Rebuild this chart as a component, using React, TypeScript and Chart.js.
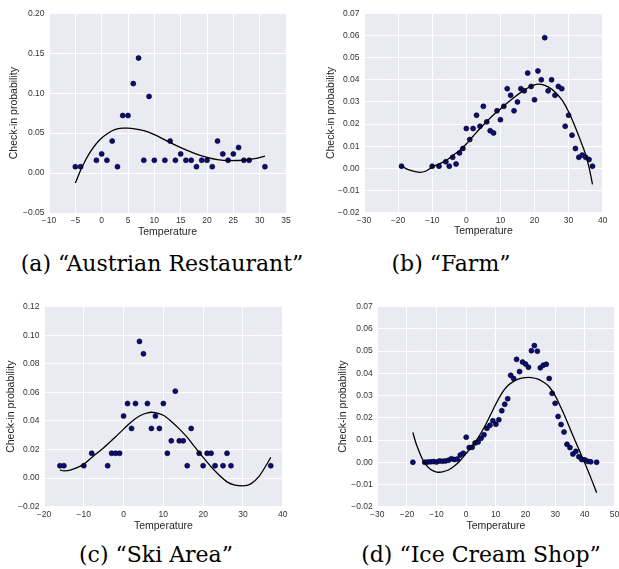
import { useEffect, useRef } from "react";
import { Chart, registerables } from "chart.js";

Chart.register(...registerables);

// ---------- (a) Austrian Restaurant ----------
const austrianTemps = [-5, -4, -1, 0, 1, 2, 3, 4, 5, 6, 7, 8, 9, 10, 12, 13, 14, 15, 16, 17, 18, 19, 20, 21, 22, 23, 24, 25, 26, 27, 28, 31];
const austrianProbs = [0.008, 0.008, 0.016, 0.024, 0.016, 0.04, 0.008, 0.072, 0.072, 0.112, 0.144, 0.016, 0.096, 0.016, 0.016, 0.04, 0.016, 0.024, 0.016, 0.016, 0.008, 0.016, 0.016, 0.008, 0.04, 0.024, 0.016, 0.024, 0.032, 0.016, 0.016, 0.008];
const austrianFitTemps = [-5, -4, -3, -2, -1, 0, 1, 2, 3, 4, 5, 6, 8, 10, 12, 14, 16, 18, 20, 22, 24, 26, 28, 30, 31];
const austrianFitProbs = [-0.0125, 0.0035, 0.017, 0.028, 0.037, 0.044, 0.049, 0.053, 0.0553, 0.0562, 0.0563, 0.0557, 0.053, 0.048, 0.0415, 0.035, 0.029, 0.0238, 0.0197, 0.0168, 0.0155, 0.0157, 0.017, 0.0193, 0.0212];

// ---------- (b) Farm ----------
const farmTemps = [-19, -10, -8, -6, -5, -4, -3, -2, -1, 0, 1, 2, 3, 4, 5, 6, 7, 8, 9, 10, 11, 12, 13, 14, 15, 16, 17, 18, 19, 20, 21, 22, 23, 24, 25, 26, 27, 28, 29, 30, 31, 32, 33, 34, 35, 36, 37];
const farmProbs = [0.001, 0.001, 0.001, 0.003, 0.001, 0.005, 0.002, 0.007, 0.009, 0.018, 0.013, 0.018, 0.024, 0.019, 0.028, 0.021, 0.017, 0.016, 0.026, 0.022, 0.028, 0.036, 0.033, 0.026, 0.03, 0.036, 0.035, 0.043, 0.037, 0.031, 0.044, 0.04, 0.059, 0.035, 0.04, 0.033, 0.037, 0.036, 0.019, 0.024, 0.015, 0.009, 0.005, 0.006, 0.005, 0.004, 0.001];
const farmFitTemps = [-19, -17, -15, -13.5, -12, -10, -8, -6, -4, -2, 0, 2, 4, 6, 8, 10, 12, 14, 16, 18, 20, 21, 22, 24, 26, 28, 30, 32, 34, 35, 36, 37];
const farmFitProbs = [0.001, -0.0006, -0.0015, -0.0018, -0.0013, 0.0006, 0.002, 0.0035, 0.0058, 0.008, 0.011, 0.0145, 0.018, 0.0212, 0.0242, 0.0268, 0.0295, 0.032, 0.0343, 0.0363, 0.0377, 0.038, 0.0379, 0.0368, 0.0345, 0.031, 0.0256, 0.0185, 0.0105, 0.0062, 0.0005, -0.0072];

// ---------- (c) Ski Area ----------
const skiTemps = [-16, -15, -10, -8, -4, -3, -2, -1, 0, 1, 2, 3, 4, 5, 6, 7, 8, 9, 10, 11, 12, 13, 14, 15, 16, 17, 19, 20, 21, 22, 23, 25, 26, 27, 37];
const skiProbs = [0.0087, 0.0087, 0.0087, 0.0174, 0.0087, 0.0174, 0.0174, 0.0174, 0.0435, 0.0522, 0.0348, 0.0522, 0.0957, 0.087, 0.0522, 0.0348, 0.0435, 0.0348, 0.0522, 0.0174, 0.0261, 0.0609, 0.0261, 0.0261, 0.0087, 0.0348, 0.0174, 0.0087, 0.0174, 0.0174, 0.0087, 0.0087, 0.0174, 0.0087, 0.0087];
const skiFitTemps = [-16, -15, -14, -12, -10, -8, -5, -2, 0, 2, 4, 6, 7, 8, 10, 12, 14, 16, 18, 20, 22, 24, 26, 28, 30, 32, 34, 36, 37];
const skiFitProbs = [0.0058, 0.0051, 0.0052, 0.007, 0.0098, 0.0145, 0.0213, 0.029, 0.0343, 0.0395, 0.0435, 0.0457, 0.0461, 0.0459, 0.044, 0.0397, 0.0345, 0.0285, 0.0215, 0.0145, 0.008, 0.0022, -0.0026, -0.0049, -0.0054, -0.004, 0.001, 0.0097, 0.0145];

// ---------- (d) Ice Cream Shop ----------
const iceTemps = [-18, -14, -13, -12, -11, -10, -9, -8, -7, -6, -5, -4, -3, -2, -1, 0, 1, 2, 3, 4, 5, 6, 7, 8, 9, 10, 11, 12, 13, 14, 15, 16, 17, 18, 19, 20, 21, 22, 23, 24, 25, 26, 27, 28, 29, 30, 31, 32, 33, 34, 35, 36, 37, 38, 39, 40, 41, 42, 44];
const iceProbs = [0.0, 0.0, 0.0001, 0.0002, 0.0003, 0.0001, 0.0006, 0.0005, 0.0006, 0.0009, 0.0016, 0.0012, 0.0015, 0.0033, 0.004, 0.0113, 0.0066, 0.0067, 0.0087, 0.0091, 0.0108, 0.0124, 0.0153, 0.0166, 0.0187, 0.0171, 0.0191, 0.0232, 0.0261, 0.0286, 0.0391, 0.0377, 0.0463, 0.0408, 0.0451, 0.0442, 0.0428, 0.0502, 0.0525, 0.05, 0.0425, 0.0437, 0.0441, 0.0377, 0.031, 0.0265, 0.0206, 0.017, 0.0136, 0.0081, 0.0066, 0.0037, 0.0049, 0.0025, 0.0012, 0.0011, 0.0004, 0.0002, 0.0];
const iceFitTemps = [-18, -17, -16, -15, -14, -12, -10, -9, -8, -6, -4, -2, 0, 2, 4, 6, 8, 10, 12, 14, 16, 18, 20, 21, 22, 24, 26, 28, 30, 32, 34, 36, 38, 40, 42, 44];
const iceFitProbs = [0.0134, 0.0088, 0.0052, 0.002, -0.0004, -0.0033, -0.0044, -0.0045, -0.0043, -0.0035, -0.0017, 0.0008, 0.004, 0.0073, 0.011, 0.0155, 0.0208, 0.0262, 0.031, 0.0344, 0.0364, 0.0376, 0.0381, 0.0382, 0.0381, 0.0375, 0.0361, 0.034, 0.03, 0.0245, 0.0185, 0.012, 0.0058, -0.0003, -0.0068, -0.0137];

// ---------- captions / labels ----------
const captions = ["(a) \u201cAustrian Restaurant\u201d", "(b) \u201cFarm\u201d", "(c) \u201cSki Area\u201d", "(d) \u201cIce Cream Shop\u201d"];
const xTitle = "Temperature";
const yTitle = "Check-in probability";

type Spec = {
  temps: number[];
  probs: number[];
  fitTemps: number[];
  fitProbs: number[];
  xMin: number; xMax: number; xStep: number;
  yMin: number; yMax: number; yStep: number; yDec: number;
  left: number; top: number; width: number; height: number;
  pL: number; pT: number; pR: number; pB: number;
  yTitleC: number; xTickC: number; xTitleC: number;
};

const TICK_SIZE = 8.5;
const TITLE_SIZE = 10.5;
const TICK_LH = TICK_SIZE * 1.2;
const TITLE_LH = TITLE_SIZE * 1.2;

const fmt = (v: number, dec: number) => {
  let n = Number(v);
  if (Math.abs(n) < 1e-10) n = 0;
  return n.toFixed(dec).replace("-", "\u2212");
};

const bgPlugin = {
  id: "bgfill",
  beforeDraw(chart: any) {
    const { ctx, chartArea } = chart;
    if (!chartArea) return;
    ctx.save();
    ctx.fillStyle = "#EAEAF2";
    ctx.fillRect(chartArea.left, chartArea.top, chartArea.right - chartArea.left, chartArea.bottom - chartArea.top);
    ctx.restore();
  },
};

function Panel({ s }: { s: Spec }) {
  const ref = useRef<HTMLCanvasElement | null>(null);
  useEffect(() => {
    if (!ref.current) return;
    const chart = new Chart(ref.current, {
      type: "scatter",
      data: {
        datasets: [
          {
            type: "scatter",
            data: s.fitTemps.map((t, i) => ({ x: t, y: s.fitProbs[i] })),
            showLine: true,
            pointRadius: 0,
            borderColor: "#000000",
            borderWidth: 1.3,
            cubicInterpolationMode: "monotone",
            fill: false,
            order: 0,
          } as any,
          {
            type: "scatter",
            data: s.temps.map((t, i) => ({ x: t, y: s.probs[i] })),
            pointRadius: 2.5,
            pointBackgroundColor: "#0b0b80",
            pointBorderColor: "#000000",
            pointBorderWidth: 0.6,
            showLine: false,
            order: 1,
          } as any,
        ],
      },
      options: {
        responsive: false,
        animation: false,
        events: [],
        layout: { padding: { left: 0, top: s.pT, right: s.width - s.pR, bottom: 0 } },
        plugins: { legend: { display: false }, tooltip: { enabled: false } },
        scales: {
          x: {
            type: "linear",
            min: s.xMin,
            max: s.xMax,
            border: { display: false },
            grid: { color: "#ffffff", lineWidth: 1, drawTicks: false },
            ticks: {
              stepSize: s.xStep,
              padding: s.xTickC - s.pB - TICK_LH / 2,
              color: "#333333",
              font: { family: "'Liberation Sans', Arial, sans-serif", size: TICK_SIZE },
              maxRotation: 0,
              autoSkip: false,
              callback: (v: any) => fmt(v, 0),
            },
            title: {
              display: true,
              text: xTitle,
              color: "#262626",
              font: { family: "'Liberation Sans', Arial, sans-serif", size: TITLE_SIZE },
              padding: { top: 0, bottom: s.height - s.xTitleC - TITLE_LH / 2 },
            },
            afterFit: (sc: any) => {
              sc.height = s.height - s.pB;
              sc.paddingLeft = 0;
              sc.paddingRight = 0;
            },
          },
          y: {
            type: "linear",
            min: s.yMin,
            max: s.yMax,
            border: { display: false },
            grid: { color: "#ffffff", lineWidth: 1, drawTicks: false },
            ticks: {
              stepSize: s.yStep,
              padding: 4.5,
              color: "#333333",
              font: { family: "'Liberation Sans', Arial, sans-serif", size: TICK_SIZE },
              autoSkip: false,
              callback: (v: any) => fmt(v, s.yDec),
            },
            title: {
              display: true,
              text: yTitle,
              color: "#262626",
              font: { family: "'Liberation Sans', Arial, sans-serif", size: TITLE_SIZE },
              padding: { top: s.yTitleC - TITLE_LH / 2, bottom: 0 },
            },
            afterFit: (sc: any) => {
              sc.width = s.pL;
              sc.paddingTop = 0;
              sc.paddingBottom = 0;
            },
          },
        },
      } as any,
      plugins: [bgPlugin],
    });
    return () => chart.destroy();
  }, [s]);
  return (
    <canvas
      ref={ref}
      width={s.width}
      height={s.height}
      style={{ position: "absolute", left: s.left, top: s.top, width: s.width, height: s.height, display: "block" }}
    />
  );
}

const specs: Spec[] = [
  {
    temps: austrianTemps, probs: austrianProbs, fitTemps: austrianFitTemps, fitProbs: austrianFitProbs,
    xMin: -10, xMax: 35, xStep: 5, yMin: -0.05, yMax: 0.2, yStep: 0.05, yDec: 2,
    left: 0, top: 0, width: 300, height: 240,
    pL: 49, pT: 13.3, pR: 286, pB: 213, yTitleC: 14, xTickC: 220.3, xTitleC: 231.7,
  },
  {
    temps: farmTemps, probs: farmProbs, fitTemps: farmFitTemps, fitProbs: farmFitProbs,
    xMin: -30, xMax: 40, xStep: 10, yMin: -0.02, yMax: 0.07, yStep: 0.01, yDec: 2,
    left: 310, top: 0, width: 309, height: 240,
    pL: 54, pT: 13.3, pR: 292.7, pB: 212.7, yTitleC: 20.7, xTickC: 220.5, xTitleC: 231,
  },
  {
    temps: skiTemps, probs: skiProbs, fitTemps: skiFitTemps, fitProbs: skiFitProbs,
    xMin: -20, xMax: 40, xStep: 10, yMin: -0.02, yMax: 0.12, yStep: 0.02, yDec: 2,
    left: 0, top: 290, width: 300, height: 250,
    pL: 44, pT: 16.7, pR: 282.7, pB: 216.7, yTitleC: 11, xTickC: 224.3, xTitleC: 236,
  },
  {
    temps: iceTemps, probs: iceProbs, fitTemps: iceFitTemps, fitProbs: iceFitProbs,
    xMin: -30, xMax: 50, xStep: 10, yMin: -0.02, yMax: 0.07, yStep: 0.01, yDec: 2,
    left: 310, top: 290, width: 309, height: 250,
    pL: 67.3, pT: 16.7, pR: 305, pB: 216.7, yTitleC: 33.3, xTickC: 224.3, xTitleC: 236,
  },
];

const captionPos = [
  { cx: 162, base: 272 },
  { cx: 451, base: 272 },
  { cx: 156, base: 563 },
  { cx: 481, base: 563 },
];

export default function App() {
  return (
    <div
      style={{
        position: "absolute",
        left: 0,
        top: 0,
        width: 619,
        height: 569,
        overflow: "hidden",
        background: "#ffffff",
      }}
    >
      {specs.map((s, i) => (
        <Panel key={i} s={s} />
      ))}
      {captions.map((c, i) => (
        <div
          key={"c" + i}
          style={{
            position: "absolute",
            left: captionPos[i].cx,
            top: captionPos[i].base - 18.6,
            transform: "translateX(-50%)",
            whiteSpace: "nowrap",
            fontFamily: "'DejaVu Serif', serif",
            fontSize: 22,
            lineHeight: "22px",
            color: "#000000",
          }}
        >
          {c}
        </div>
      ))}
    </div>
  );
}
